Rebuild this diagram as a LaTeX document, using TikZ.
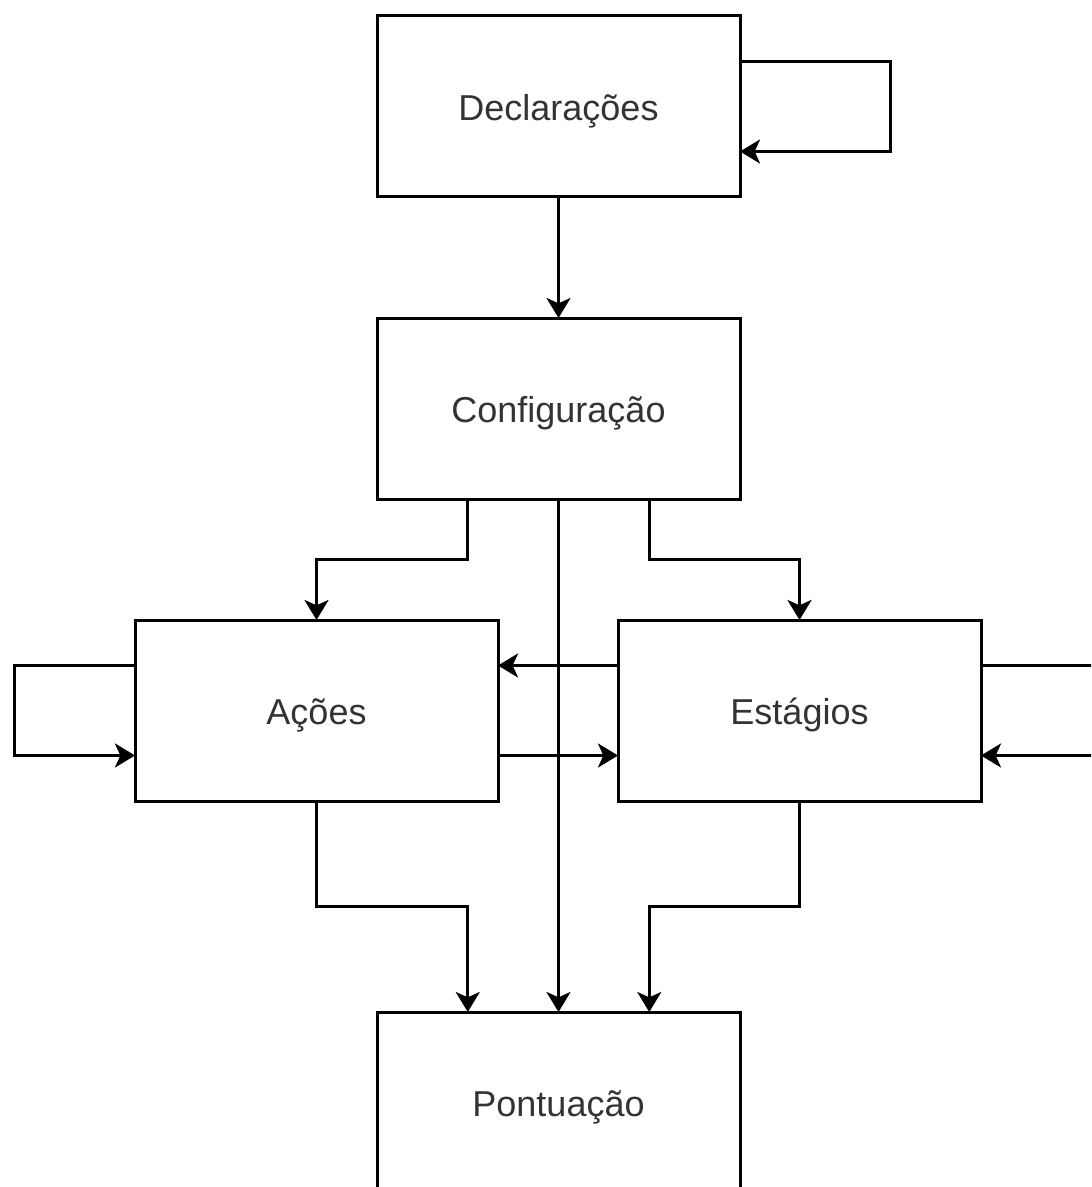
\documentclass[tikz,border=0pt]{standalone}
\usepackage{fontspec}
\setmainfont{Liberation Sans}
\usetikzlibrary{arrows.meta,calc}
\definecolor{labeltext}{RGB}{51,51,51}
\begin{document}
\begin{tikzpicture}[x=0.75pt,y=-0.75pt,
  block/.style={draw, line width=2.25pt, minimum width=272.25pt, minimum height=135.75pt,
    inner sep=0pt, outer sep=0pt, font=\fontsize{27}{31}\selectfont, text=labeltext,
    text height=21pt, text depth=0pt},
  link/.style={line width=2.25pt, -{Stealth[length=15pt,width=18pt,inset=4pt]}}]

\useasboundingbox (0,0) rectangle (1091,1187);
\clip (0,0) rectangle (1091,1187);

% blocks
\node[block] (decl) at (558.5,106.5) {Declarações};
\node[block] (conf) at (558.5,408.5) {Configuração};
\node[block] (acoes) at (316.5,710.5) {Ações};
\node[block] (est) at (799.5,710.5) {Estágios};
\node[block] (pont) at (558.5,1102.5) {Pontuação};

% attachment points at a quarter and three quarters of a box side
\coordinate (c1) at ($(conf.south west)!0.25!(conf.south east)$);
\coordinate (c3) at ($(conf.south west)!0.75!(conf.south east)$);
\coordinate (p1) at ($(pont.north west)!0.25!(pont.north east)$);
\coordinate (p3) at ($(pont.north west)!0.75!(pont.north east)$);

% self loops
\draw[link] ($(decl.east)+(0,-45)$) -- ++(150,0) -- ++(0,90) -- ($(decl.east)+(0,45)$);
\draw[link] ($(acoes.west)+(0,-45)$) -- ++(-121,0) -- ++(0,90) -- ($(acoes.west)+(0,45)$);
\draw[link] ($(est.east)+(0,-45)$) -- ++(140,0) -- ++(0,90) -- ($(est.east)+(0,45)$);

% main flow
\draw[link] (decl) -- (conf);
\draw[link] (c1) -- ++(0,60) -| (acoes.north);
\draw[link] (c3) -- ++(0,60) -| (est.north);
\draw[link] (conf) -- (pont);

% between actions and stages
\draw[link] ($(est.west)+(0,-45)$) -- ($(acoes.east)+(0,-45)$);
\draw[link] ($(acoes.east)+(0,45)$) -- ($(est.west)+(0,45)$);

% into scoring
\draw[link] (acoes.south) -- ++(0,105.5) -| (p1);
\draw[link] (est.south) -- ++(0,105.5) -| (p3);
\end{tikzpicture}
\end{document}
